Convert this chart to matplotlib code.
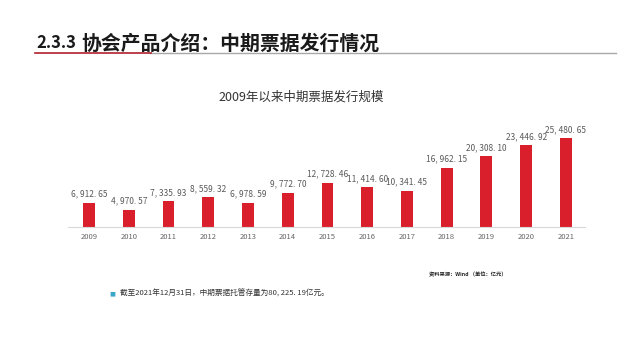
import matplotlib
matplotlib.use("Agg")
import matplotlib.pyplot as plt
from matplotlib.lines import Line2D

plt.rcParams['font.family'] = ['Noto Sans CJK SC', 'DejaVu Sans']

# -------------------------
# DATA
# -------------------------
years = ["2009", "2010", "2011", "2012", "2013", "2014", "2015",
         "2016", "2017", "2018", "2019", "2020", "2021"]
issuance = [6912.65, 4970.57, 7335.93, 8559.32, 6978.59, 9772.70, 12728.46,
            11414.60, 10341.45, 16962.15, 20308.10, 23446.92, 25480.65]

header_num = "2.3.3"
header_text = "协会产品介绍：中期票据发行情况"
chart_title = "2009年以来中期票据发行规模"
source_note = "资料来源：Wind （单位：亿元）"
bullet_note = "截至2021年12月31日，中期票据托管存量为80, 225. 19亿元。"

bar_color = "#DA1F2C"
label_color = "#595959"

fig = plt.figure(figsize=(6.4, 3.6), dpi=100)
fig.patch.set_facecolor("white")

# header + underline
fig.text(36 / 640, 1 - 43 / 360, header_num, fontsize=12, fontweight="bold",
         color="#1a1a1a", va="center", ha="left")
fig.text(81 / 640, 1 - 43 / 360, header_text, fontsize=14.3, fontweight="bold",
         color="#1a1a1a", va="center", ha="left")
fig.add_artist(Line2D([150 / 640, 616 / 640], [1 - 53 / 360] * 2,
                      color="#A8A8A8", lw=1.0))
fig.add_artist(Line2D([35 / 640, 151 / 640], [1 - 53 / 360] * 2,
                      color="#B0202C", lw=1.2))

# chart title
fig.text(301 / 640, 1 - 97 / 360, chart_title, fontsize=9,
         color="#333333", ha="center", va="center")

# bar axes
ax = fig.add_axes([68 / 640, (360 - 227) / 360, (585 - 68) / 640, 117 / 360])
x = range(len(years))
bars = ax.bar(x, issuance, width=0.3, color=bar_color, zorder=2)
ax.set_xlim(-0.53, len(years) - 1 + 0.48)
ax.set_ylim(0, 33500)
ax.set_xticks(list(x))
ax.set_xticklabels(years, fontsize=5.5, color="#666666")
ax.tick_params(axis="x", length=0, pad=4)
ax.set_yticks([])
for side in ["top", "right", "left"]:
    ax.spines[side].set_visible(False)
ax.spines["bottom"].set_color("#D9D9D9")
ax.spines["bottom"].set_linewidth(0.8)

labels = ["{:,.2f}".format(v).replace(",", ", ").replace(".", ". ") for v in issuance]
ax.bar_label(bars, labels=labels, padding=3, fontsize=6, color=label_color)

# source and bullet note
fig.text(468 / 640, 1 - 275 / 360, source_note, fontsize=3.8, color="#222222",
         ha="center", va="center", style="italic", fontweight="bold")
fig.text(112 / 640, 1 - 294 / 360, "■", fontsize=4.5, color="#3AA6C8",
         ha="center", va="center", family="DejaVu Sans")
fig.text(120 / 640, 1 - 294 / 360, bullet_note, fontsize=5.5, color="#333333",
         ha="left", va="center")

fig.savefig("out.png", dpi=100, facecolor="white")
